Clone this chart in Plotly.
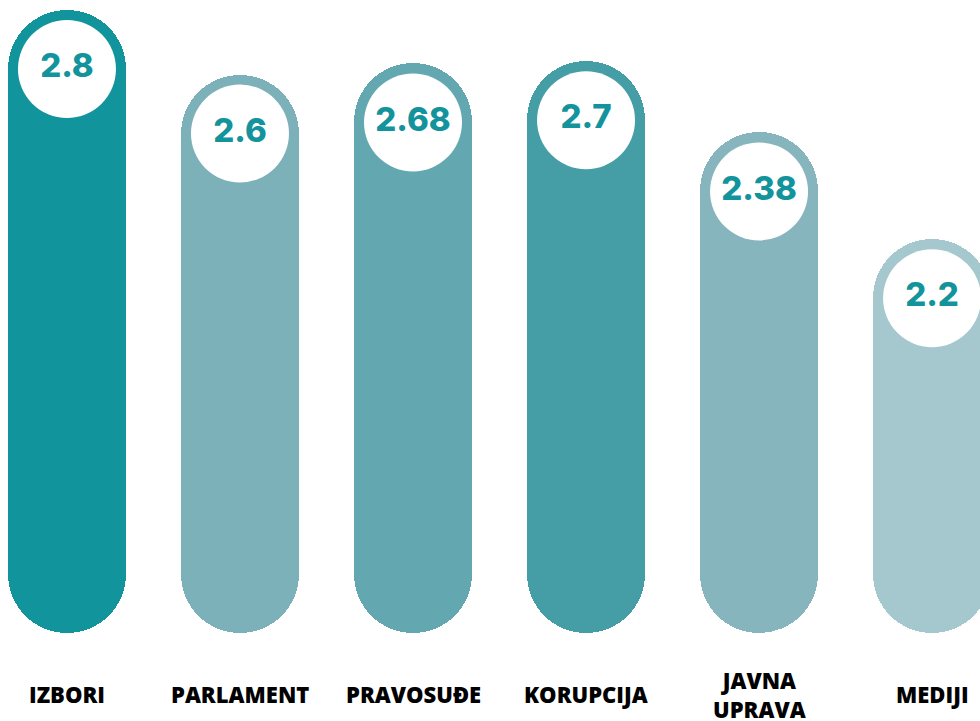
import plotly.graph_objects as go

# ---- data ----
categories = ["IZBORI", "PARLAMENT", "PRAVOSUĐE", "KORUPCIJA", "JAVNA UPRAVA", "MEDIJI"]
axis_labels = ["IZBORI", "PARLAMENT", "PRAVOSUĐE", "KORUPCIJA", "JAVNA<br>UPRAVA", "MEDIJI"]
values = [2.8, 2.6, 2.68, 2.7, 2.38, 2.2]
# visual bar lengths as drawn in the infographic (not strictly proportional to the labels)
bar_heights = [2.80, 2.51, 2.56, 2.57, 2.25, 1.77]
value_labels = ["2.8", "2.6", "2.68", "2.7", "2.38", "2.2"]
bar_colors = ["#12949C", "#7DB1B9", "#63A8B0", "#459EA6", "#86B5BD", "#A5C8CE"]

# ---- layout constants ----
W, H = 980, 721
x_range = [-0.387, 5.277]
y_range = [-0.3955, 2.845]
bar_w = 0.682
px_per_x = W / (x_range[1] - x_range[0])
px_per_y = H / (y_range[1] - y_range[0])
r_px = bar_w * px_per_x / 2          # cap radius in px
r_y = r_px / px_per_y                # cap radius in y units

xs = list(range(len(categories)))

fig = go.Figure()
# pill-shaped bars (explicit base -> both ends rounded)
fig.add_trace(go.Bar(
    x=xs, y=bar_heights, base=[0] * len(xs), width=bar_w,
    marker=dict(color=bar_colors, cornerradius="50%", line=dict(width=0)),
    hoverinfo="skip", showlegend=False))
# white circles with values
fig.add_trace(go.Scatter(
    x=xs, y=[h - r_y for h in bar_heights], mode="markers+text",
    marker=dict(size=2 * (r_px - 10), color="white", line=dict(width=0)),
    text=value_labels, textposition="middle center",
    textfont=dict(family="Inter", size=33, color="#13939B", weight=800),
    hoverinfo="skip", showlegend=False, cliponaxis=False))

for x, lab in zip(xs, axis_labels):
    fig.add_annotation(
        x=x, y=0.037, xref="x", yref="paper", text=lab, showarrow=False,
        xanchor="center", yanchor="middle",
        font=dict(family="Open Sans", size=22, color="#000000", weight=800))

fig.update_layout(
    width=W, height=H, margin=dict(l=0, r=0, t=0, b=0),
    paper_bgcolor="white", plot_bgcolor="white",
    barmode="overlay", bargap=0,
    xaxis=dict(range=x_range, visible=False, fixedrange=True),
    yaxis=dict(range=y_range, visible=False, fixedrange=True),
    showlegend=False,
)

fig.write_html("out.html")
